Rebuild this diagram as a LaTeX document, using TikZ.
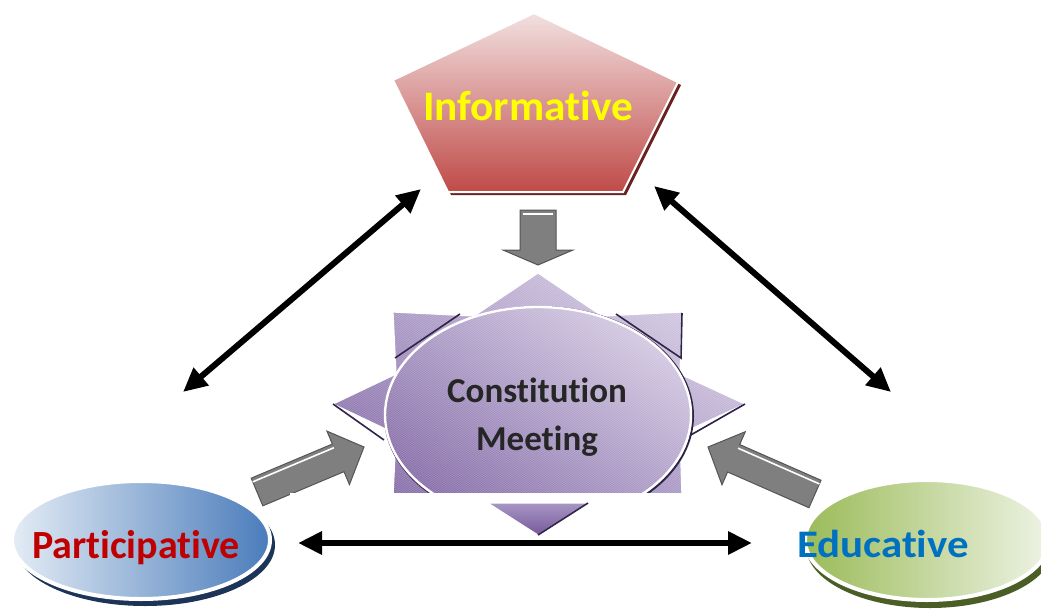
\documentclass[tikz,border=0pt]{standalone}
\usepackage{fontspec}
\setmainfont{Carlito}[Ligatures=CommonOff]
\usetikzlibrary{arrows.meta,calc,shadings}

\definecolor{pentTop}{HTML}{F2E0E0}
\definecolor{pentBot}{HTML}{BF4B48}
\definecolor{pentShadow}{HTML}{6A2220}
\definecolor{purpDark}{HTML}{76599B}
\definecolor{purpMid}{HTML}{A896C4}
\definecolor{purpLight}{HTML}{E2DBEC}
\definecolor{purpEdge}{HTML}{2E2448}
\definecolor{blueLight}{HTML}{E4ECF5}
\definecolor{blueDark}{HTML}{4A7CBB}
\definecolor{navy}{HTML}{1C3458}
\definecolor{greenDark}{HTML}{9BBB59}
\definecolor{greenLight}{HTML}{EEF3E4}
\definecolor{olive}{HTML}{4A5E25}
\definecolor{arrowGray}{HTML}{7F7F7F}
\definecolor{arrowEdge}{HTML}{555555}
\definecolor{infoText}{HTML}{FFFF00}
\definecolor{partText}{HTML}{C00000}
\definecolor{eduText}{HTML}{0070C0}
\definecolor{meetText}{HTML}{262626}

\tikzset{
  label text/.style={inner sep=0pt, anchor=base},
  link/.style={line width=6pt, {Triangle[length=24pt,width=22pt]}-{Triangle[length=24pt,width=22pt]}},
  blockfill/.style={fill=arrowGray, draw=arrowEdge, line width=1pt, line join=miter},
  purple shade/.style={lower left=purpDark, upper right=purpLight, upper left=purpMid, lower right=purpMid},
  bevel/.style={purpEdge, line width=1.6pt},
  streak/.style={white, opacity=0.24, line width=0.5pt},
}

% block arrow from #1 (base centre) to #2 (tip):
% #3 body half-width, #4 head half-width, #5 head length
\newcommand{\blockarr}[5]{%
  \coordinate (neck) at ($(#2)!#5!(#1)$);
  \filldraw[blockfill]
    ($(#1)!#3!90:(#2)$) -- ($(neck)!#3!-90:(#1)$) -- ($(neck)!#4!-90:(#1)$)
    -- (#2) -- ($(neck)!#4!90:(#1)$) -- ($(neck)!#3!90:(#1)$)
    -- ($(#1)!#3!-90:(#2)$) -- cycle;
}

% outline of the eight-point star
\newcommand{\starpath}{(538,273) -- (602,316) -- (682,312) -- (680,374) -- (745,404)
    -- (680,434) -- (682,496) -- (602,492) -- (538,535) -- (474,492) -- (393,496)
    -- (396,434) -- (333,404) -- (396,374) -- (393,312) -- (474,316) -- cycle}

\begin{document}
\begin{tikzpicture}[x=1pt,y=-1pt]
\useasboundingbox (0,0) rectangle (1041,610);

% ---------- Informative pentagon ----------
\fill[pentShadow] (537,16) -- (681,85) -- (626,195) -- (451,195) -- (396,83) -- cycle;
\shade[top color=pentTop, bottom color=pentBot, draw=white, line width=2pt]
  (534,13) -- (678,82) -- (623,192) -- (448,192) -- (393,80) -- cycle;
\node[label text, text=infoText, font=\bfseries\fontsize{42}{46}\selectfont]
  (inf) at (528,120) {\scalebox{1.03}[1]{Informative}};

% ---------- gray block arrows ----------
\coordinate (downA) at (538,210);
\coordinate (downB) at (538,265);
\blockarr{downA}{downB}{18pt}{35pt}{15pt}
\draw[white, line width=2pt] (523,214) -- (553,214);

\coordinate (partA) at (257,492);
\coordinate (partB) at (364,447);
\blockarr{partA}{partB}{15pt}{29pt}{28pt}
\draw[white, line width=1.6pt] ($(partA)!11pt!90:(partB)$) -- ($($(partB)!28pt!(partA)$)!11pt!-90:(partA)$);

\coordinate (eduA) at (815,494);
\coordinate (eduB) at (708,447);
\blockarr{eduA}{eduB}{15pt}{29pt}{28pt}
\draw[white, line width=1.6pt] ($(eduA)!11pt!-90:(eduB)$) -- ($($(eduB)!28pt!(eduA)$)!11pt!90:(eduA)$);

% ---------- Constitution Meeting star and ellipse ----------
\begin{scope}
  \clip (0,0) rectangle (1041,493);
  \shade[purple shade, draw=white, line width=1.2pt] \starpath;
  \begin{scope}
    \clip \starpath;
    \foreach \k in {0,3,...,840}
      \draw[streak] (\k,250) -- (\k+460,540);
  \end{scope}
  % bevelled edges of the points
  \draw[bevel] (460,314) -- (395,358) (616,314) -- (681,358) -- (682,313)
    (745,404) -- (682,440) (333,404) -- (384,440) (538,535) -- (602,492);
  % central ellipse
  \draw[purpEdge, line width=2pt] (539,416) ellipse [x radius=154, y radius=109];
  \shade[purple shade, draw=white, line width=2.4pt]
    (538,415) ellipse [x radius=153, y radius=108];
  \begin{scope}
    \clip (538,415) ellipse [x radius=152, y radius=107];
    \foreach \k in {0,3,...,780}
      \draw[streak] (\k,250) -- (\k+460,540);
  \end{scope}
\end{scope}
% band across the foot of the star
\fill[white] (290,493) rectangle (705,503);
% lower point of the star
\shade[top color=purpMid, bottom color=purpDark, draw=white, line width=1pt]
  (488,503) -- (588,503) -- (538,535) -- cycle;
\draw[bevel] (588,503) -- (538,535);

\node[label text, text=meetText, font=\bfseries\fontsize{35}{39}\selectfont]
  (cons) at (537,402) {Constitution};
\node[label text, text=meetText, font=\bfseries\fontsize{35}{39}\selectfont]
  (meet) at (537,450) {Meeting};

% ---------- Participative ellipse ----------
\fill[navy] (145,545) ellipse [x radius=130, y radius=61];
\shade[left color=blueLight, right color=blueDark, draw=white, line width=4pt]
  (141,540) ellipse [x radius=129, y radius=59];
\node[label text, text=partText, font=\bfseries\fontsize{40}{44}\selectfont]
  (part) at (136,558) {Participative};

% ---------- Educative ellipse ----------
\fill[olive] (930,546) ellipse [x radius=124, y radius=62];
\shade[left color=greenDark, right color=greenLight, draw=white, line width=4pt]
  (927,540) ellipse [x radius=122, y radius=60];
\node[label text, text=eduText, font=\bfseries\fontsize{39}{43}\selectfont]
  (edu) at (883,557) {\scalebox{1.1}[1]{Educative}};

% ---------- two-way links ----------
\coordinate (lnkInfL) at (421,189);
\coordinate (lnkPartT) at (183,392);
\coordinate (lnkInfR) at (654,186);
\coordinate (lnkEduT) at (891,392);
\coordinate (lnkPartR) at (298,543);
\coordinate (lnkEduL) at (752,543);
\draw[link] (lnkPartT) -- (lnkInfL);
\draw[link] (lnkInfR) -- (lnkEduT);
\draw[link] (lnkPartR) -- (lnkEduL);

\end{tikzpicture}
\end{document}
